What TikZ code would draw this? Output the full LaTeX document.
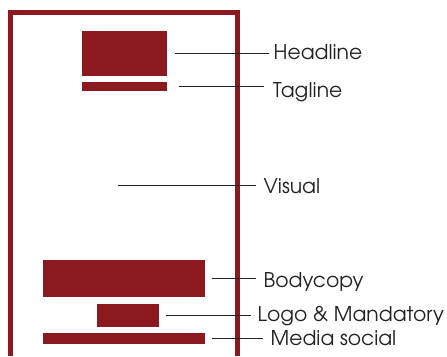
\documentclass[tikz,border=0pt]{standalone}
\usepackage{fontspec}
\setmainfont{TeX Gyre Adventor}
\definecolor{brandred}{HTML}{8B191D}
\definecolor{ink}{HTML}{222222}
\begin{document}
\begin{tikzpicture}[x=1pt,y=-1pt,
  block/.style={fill=brandred,draw=none,inner sep=0,anchor=north west},
  lbl/.style={anchor=base west,inner sep=0,text=ink,font=\fontsize{20.3}{22}\selectfont},
  lead/.style={draw=ink,line width=1.4pt}]
\useasboundingbox (0,0) rectangle (447,356);
% page frame, open at the bottom
\draw[brandred,line width=5pt] (10.5,356) -- (10.5,12.5) -- (237.5,12.5) -- (237.5,356);
% layout blocks
\node[block,minimum width=85,minimum height=45] (head) at (82,31) {};
\node[block,minimum width=85,minimum height=9] (tag) at (82,82) {};
\coordinate (vis) at (118,185.7);
\node[block,minimum width=162,minimum height=37] (body) at (43,260) {};
\node[block,minimum width=62,minimum height=23] (logo) at (97,304) {};
\node[block,minimum width=162,minimum height=11] (media) at (43,333) {};
% labels
\node[lbl] (headL) at (273.5,59) {Headline};
\node[lbl] (tagL) at (273,97) {Tagline};
\node[lbl] (visL) at (263.5,193) {Visual};
\node[lbl] (bodyL) at (263.5,287) {Bodycopy};
\node[lbl] (logoL) at (257.5,321) {Logo \& Mandatory};
\node[lbl] (mediaL) at (270.5,345) {Media social};
% leader lines
\draw[lead] ([xshift=8]head.east) -- ([xshift=-5]head.east -| headL.west);
\draw[lead] ([xshift=12]tag.east) -- ([xshift=-9]tag.east -| tagL.west);
\draw[lead] (vis) -- ([xshift=-8]vis -| visL.west);
\draw[lead] ([xshift=7]body.east) -- ([xshift=-8]body.east -| bodyL.west);
\draw[lead] ([xshift=7]logo.east) -- ([xshift=-7]logo.east -| logoL.west);
\draw[lead] ([xshift=7]media.east) -- ([xshift=-8]media.east -| mediaL.west);
\end{tikzpicture}
\end{document}
